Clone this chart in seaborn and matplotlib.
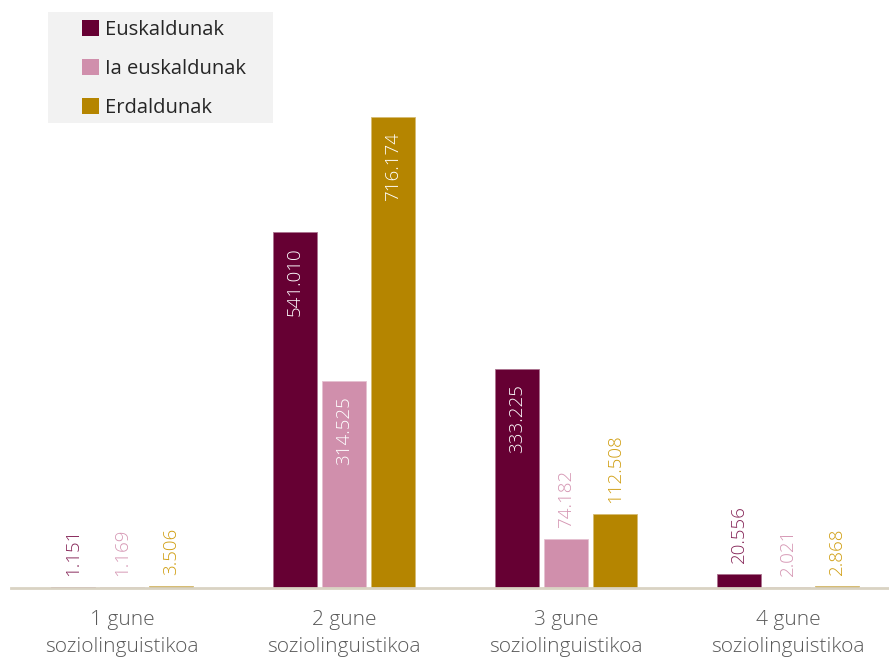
import matplotlib
matplotlib.use("Agg")
import matplotlib.pyplot as plt
import matplotlib.colors as mcolors
import seaborn as sns
import pandas as pd
import numpy as np
from matplotlib.patches import Rectangle

categories = ["1 gune\nsoziolinguistikoa", "2 gune\nsoziolinguistikoa",
              "3 gune\nsoziolinguistikoa", "4 gune\nsoziolinguistikoa"]
series = ["Euskaldunak", "Ia euskaldunak", "Erdaldunak"]
euskaldunak = [1151, 541010, 333225, 20556]
ia_euskaldunak = [1169, 314525, 74182, 2021]
erdaldunak = [3506, 716174, 112508, 2868]

colors = ["#660033", "#D08FAC", "#B58500"]
label_out_colors = ["#862558", "#D596B3", "#D09E12"]

rows = []
for s, vals in zip(series, [euskaldunak, ia_euskaldunak, erdaldunak]):
    for c, v in zip(categories, vals):
        rows.append({"gune": c, "serie": s, "balioa": v})
df = pd.DataFrame(rows)

sns.set_theme(style="white")
plt.rcParams["font.family"] = ["Open Sans", "DejaVu Sans"]

fig = plt.figure(figsize=(8.89, 6.59), dpi=100)
ax = fig.add_axes([11 / 889, (659 - 588) / 659, 888 / 889, 526 / 659])

sns.barplot(data=df, x="gune", y="balioa", hue="serie", hue_order=series,
            order=categories, palette=colors, saturation=1, width=0.66, gap=0.09,
            linewidth=0.6, ax=ax, legend=True)

ax.set_ylim(0, 800000)
ax.set_xlim(-0.5, 3.5)

fmt = lambda v: f"{v:,}".replace(",", ".")
for i, cont in enumerate(ax.containers):
    fc = np.array(mcolors.to_rgb(colors[i]))
    ec = fc * 0.55 + 0.45
    for bar in cont:
        bar.set_edgecolor(ec)
        h = bar.get_height()
        xc = bar.get_x() + bar.get_width() / 2
        if h > 200000:
            ax.annotate(fmt(int(round(h))), (xc, h), xytext=(0, -11),
                        textcoords="offset points", rotation=90,
                        ha="center", va="top", color="white", fontsize=13.5,
                        fontweight="light")
        else:
            ax.annotate(fmt(int(round(h))), (xc, h), xytext=(0, 8),
                        textcoords="offset points", rotation=90,
                        ha="center", va="bottom", color=label_out_colors[i],
                        fontsize=13.5, fontweight="light")

for sp in ["top", "left", "right"]:
    ax.spines[sp].set_visible(False)
ax.spines["bottom"].set_color("#D9D3C3")
ax.spines["bottom"].set_linewidth(2)
ax.set_yticks([])
ax.set_xlabel("")
ax.set_ylabel("")
ax.tick_params(axis="x", length=0, pad=16, labelsize=15, labelcolor="#595959")
for t in ax.get_xticklabels():
    t.set_linespacing(1.45)
    t.set_fontweight("light")

# legend background
bg = Rectangle((48 / 889, 1 - 123 / 659), 225 / 889, 111 / 659,
               transform=fig.transFigure, facecolor="#F2F2F2",
               edgecolor="none", zorder=0.5, clip_on=False)
ax.add_patch(bg)
leg = ax.legend(loc="upper left", bbox_to_anchor=(76 / 889, 1 - 14 / 659),
                bbox_transform=fig.transFigure, frameon=False, fontsize=14.5,
                handlelength=0.85, handleheight=0.85, handletextpad=0.3,
                labelspacing=0.95, borderpad=0.3, borderaxespad=0)
leg.set_zorder(10)
for t in leg.get_texts():
    t.set_color("#262626")
for h in leg.legend_handles:
    h.set_edgecolor("none")

fig.savefig("out.png", dpi=100)
